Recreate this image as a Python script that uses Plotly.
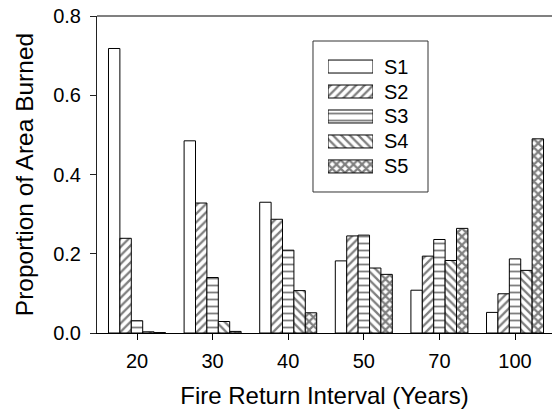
import plotly.graph_objects as go

# Fire return interval classes (years)
intervals = ["20", "30", "40", "50", "70", "100"]
series_names = ["S1", "S2", "S3", "S4", "S5"]

# Proportion of area burned per series
s1 = [0.718, 0.485, 0.330, 0.182, 0.108, 0.052]
s2 = [0.239, 0.328, 0.287, 0.245, 0.194, 0.099]
s3 = [0.031, 0.140, 0.209, 0.247, 0.236, 0.187]
s4 = [0.003, 0.029, 0.107, 0.164, 0.183, 0.158]
s5 = [0.001, 0.004, 0.051, 0.148, 0.264, 0.490]

y_ticks = [0.0, 0.2, 0.4, 0.6, 0.8]

series_values = [s1, s2, s3, s4, s5]
patterns = ["", "/", "-", "\\", "x"]
pattern_sizes = [6, 6, 7, 6, 6]
pattern_solid = [0.3, 0.38, 0.26, 0.38, 0.6]

FONT = "Liberation Sans, Arial, Helvetica, sans-serif"

fig = go.Figure()

for name, vals, shp, sz, sol in zip(series_names, series_values, patterns,
                                    pattern_sizes, pattern_solid):
    fig.add_trace(go.Bar(
        x=intervals, y=vals, name=name,
        marker=dict(
            color="white",
            line=dict(color="black", width=1),
            pattern=dict(shape=shp, fgcolor="black", bgcolor="white",
                         size=sz, solidity=sol, fillmode="overlay"),
        ),
        showlegend=False,
        xaxis="x", yaxis="y",
    ))

# Key drawn as a small horizontal bar panel with the same fills
legend_len = [1] * len(series_names)
fig.add_trace(go.Bar(
    x=legend_len, y=series_names, orientation="h", width=0.52,
    marker=dict(
        color="white",
        line=dict(color="black", width=1),
        pattern=dict(shape=patterns, fgcolor="black", bgcolor="white",
                     size=pattern_sizes, solidity=pattern_solid,
                     fillmode="overlay"),
    ),
    showlegend=False, hoverinfo="skip",
    xaxis="x2", yaxis="y2",
))

fig.update_layout(
    width=552, height=418,
    margin=dict(l=97, r=0, t=16, b=85),
    paper_bgcolor="white", plot_bgcolor="white",
    barmode="group", bargap=0.246, bargroupgap=0,
    font=dict(family=FONT, size=20, color="black"),
    xaxis=dict(
        type="category", range=[-0.529, 5.489],
        showline=True, linecolor="black", linewidth=1,
        ticks="outside", ticklen=6, tickcolor="black",
        ticklabelstandoff=4,
        showgrid=False, zeroline=False,
        title=dict(text="Fire Return Interval (Years)",
                   font=dict(size=24), standoff=16),
    ),
    yaxis=dict(
        range=[0, 0.8], tickvals=y_ticks, tickformat=".1f",
        showline=True, linecolor="#222", linewidth=1,
        ticks="outside", ticklen=6, tickcolor="#222",
        ticklabelstandoff=5,
        showgrid=False, zeroline=False,
        title=dict(text="Proportion of Area Burned",
                   font=dict(size=24.5), standoff=12),
    ),
    xaxis2=dict(domain=[0.5077, 0.6066], range=[0, 1], visible=False,
                anchor="y2"),
    yaxis2=dict(domain=[0.486, 0.880], autorange="reversed",
                type="category", anchor="x2", side="right",
                showline=False, ticks="", showgrid=False, zeroline=False,
                ticklabelstandoff=10, tickfont=dict(size=20)),
    shapes=[
        dict(type="line", xref="paper", yref="paper", x0=0, x1=1, y0=1, y1=1,
             line=dict(color="#808080", width=2)),
        dict(type="rect", xref="paper", yref="paper",
             x0=0.4747, x1=0.7275, y0=0.4448, y1=0.9211,
             line=dict(color="#333", width=1), fillcolor="rgba(0,0,0,0)",
             layer="below"),
    ],
)

fig.write_html("out.html")
